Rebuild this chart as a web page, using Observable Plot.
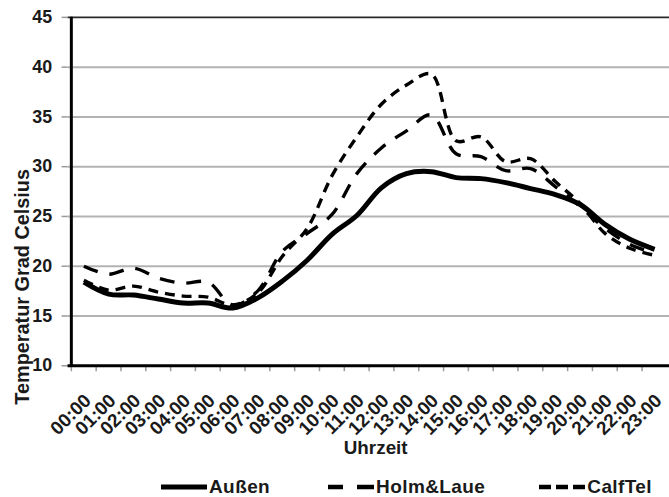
<!DOCTYPE html>
<html><head><meta charset="utf-8">
<script src="https://cdn.jsdelivr.net/npm/d3@7"></script>
<script src="https://cdn.jsdelivr.net/npm/@observablehq/plot@0.6"></script>
<style>
body{margin:0;background:#fff;font-family:"Liberation Sans",Arial,sans-serif;}
#wrap{width:669px;height:497px;overflow:hidden;position:relative;background:#fff;}
#chart{position:absolute;left:0;top:0;}
#legend{position:absolute;top:476px;left:161px;height:22px;display:flex;align-items:center;font-weight:bold;font-size:19px;letter-spacing:0.4px;color:#1a1a1a;white-space:nowrap;}
#legend .item{display:flex;align-items:center;}
#legend svg{display:block;margin-right:2px;}
</style></head><body>
<div id="wrap"><div id="chart"></div><div id="legend"></div></div>
<script>
const hours = ["00:00","01:00","02:00","03:00","04:00","05:00","06:00","07:00","08:00","09:00","10:00","11:00",
               "12:00","13:00","14:00","15:00","16:00","17:00","18:00","19:00","20:00","21:00","22:00","23:00"];
const aussen   = [18.4,17.2,17.1,16.7,16.3,16.3,15.8,16.8,18.5,20.6,23.2,25.1,27.9,29.3,29.5,28.9,28.8,28.4,27.8,27.2,26.2,24.2,22.7,21.7];
const holmLaue = [20.0,19.2,19.8,18.8,18.3,18.4,16.1,17.5,21.5,23.3,25.2,29.3,31.9,33.6,35.2,31.3,31.0,29.6,29.8,28.0,26.0,23.8,22.2,21.3];
const calfTel  = [18.6,17.6,18.0,17.4,17.0,16.9,16.1,17.3,21.0,23.8,29.1,33.0,36.3,38.2,39.3,32.6,33.0,30.5,30.8,28.5,26.3,23.3,21.8,21.1];
const yTicks = [10,15,20,25,30,35,40,45];
const seriesNames = ["Außen","Holm&Laue","CalfTel"];
const seriesValues = [aussen, holmLaue, calfTel];
const yTitle = "Temperatur Grad Celsius";
const xTitle = "Uhrzeit";

const seriesStyle = {
  "Außen":     {width: 5,   dash: null},
  "Holm&Laue": {width: 3.4, dash: "15,12"},
  "CalfTel":   {width: 3.4, dash: "10,7"}
};

const data = seriesNames.flatMap((s, k) => hours.map((h, i) => ({hour: h, value: seriesValues[k][i], series: s})));

const W = 674, H = 470, ML = 68, MR = 0, MT = 17, MB = 102;
const halfStep = (W - ML - MR) / hours.length / 2;
const font = "'Liberation Sans', Arial, sans-serif";

const lineMarks = seriesNames.map(s => Plot.line(data.filter(d => d.series === s), {
  x: "hour", y: "value", curve: "catmull-rom",
  stroke: "#000", strokeWidth: seriesStyle[s].width,
  strokeDasharray: seriesStyle[s].dash, strokeLinecap: "butt", strokeLinejoin: "round"
}));

const chart = Plot.plot({
  width: W, height: H,
  marginLeft: ML, marginRight: MR, marginTop: MT, marginBottom: MB,
  x: {type: "point", domain: hours, padding: 0.5, label: null},
  y: {domain: [10, 45], label: null},
  style: {fontFamily: font, fontWeight: "bold", color: "#1a1a1a", background: "#fff", overflow: "visible"},
  marks: [
    Plot.gridY(yTicks.filter(t => t > 10 && t < 45), {stroke: "#b3b3b3", strokeOpacity: 1, strokeWidth: 2}),
    Plot.ruleY([45], {stroke: "#2a2a2a", strokeWidth: 2}),
    Plot.axisY({ticks: yTicks, tickSize: 6, tickPadding: 10, stroke: "#999", strokeWidth: 1.5, fontSize: 18, fill: "#1a1a1a", label: null}),
    Plot.axisX({tickSize: 6, tickFormat: () => "", dx: -halfStep, stroke: "#999", strokeWidth: 1.5, label: null}),
    Plot.text(hours, {x: d => d, frameAnchor: "bottom", dx: 4, dy: 32, rotate: -45, textAnchor: "end", lineAnchor: "middle",
      fontSize: 19, fontWeight: "bold", fill: "#1a1a1a", style: {letterSpacing: "1px"}}),
    ...lineMarks,
    Plot.ruleX([hours[0]], {dx: -halfStep, stroke: "#000", strokeWidth: 3}),
    Plot.ruleY([10], {stroke: "#000", strokeWidth: 3}),
    Plot.text([yTitle], {frameAnchor: "left", dx: -46, dy: 96, rotate: -90, textAnchor: "middle", fontSize: 20, fontWeight: "bold", fill: "#1a1a1a"}),
    Plot.text([xTitle], {frameAnchor: "bottom", dx: 7, dy: 89, textAnchor: "middle", fontSize: 19, fontWeight: "bold", fill: "#1a1a1a"})
  ]
});
document.getElementById("chart").appendChild(chart);

// legend
const legend = d3.select("#legend");
const gaps = [0, 58, 54];
seriesNames.forEach((s, k) => {
  const item = legend.append("div").attr("class", "item").style("margin-left", gaps[k] + "px");
  const sw = item.append("svg").attr("width", 46).attr("height", 12);
  sw.append("line").attr("x1", 0).attr("x2", 46).attr("y1", 6).attr("y2", 6)
    .attr("stroke", "#000").attr("stroke-width", s === "Außen" ? 5 : 4.5)
    .attr("stroke-dasharray", s === "Außen" ? null : (s === "Holm&Laue" ? "15,14,17" : "12,5"));
  item.append("span").text(s);
});
</script>
</body></html>
